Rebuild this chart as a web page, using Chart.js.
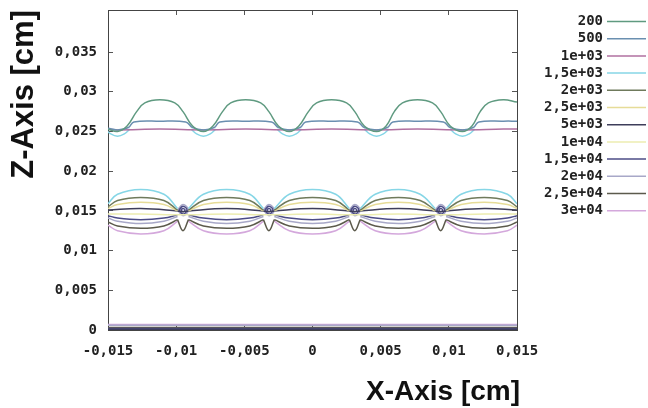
<!DOCTYPE html>
<html>
<head>
<meta charset="utf-8">
<script src="https://cdn.jsdelivr.net/npm/chart.js@4.4.1/dist/chart.umd.min.js"></script>
<style>
  body { margin: 0; background: #fff; }
  canvas { display: block; }
</style>
</head>
<body>
<canvas id="contour" width="648" height="408"></canvas>
<script>
// tick labels and contour levels
const xTicks = [-0.015, -0.01, -0.005, 0, 0.005, 0.01, 0.015];
const zTicks = [0, 0.005, 0.01, 0.015, 0.02, 0.025, 0.03, 0.035];
const levels = ["200", "500", "1e+03", "1,5e+03", "2e+03", "2,5e+03", "5e+03", "1e+04", "1,5e+04", "2e+04", "2,5e+04", "3e+04"];

// contour lines: segments of [x, z] in cm
const c200 = [[
  [-0.0150, 0.0253], [-0.0143, 0.0250], [-0.0136, 0.0257], [-0.0129, 0.0275], [-0.0123, 0.0286], [-0.0112, 0.0290],
  [-0.0101, 0.0286], [-0.0095, 0.0275], [-0.0088, 0.0257], [-0.0080, 0.0250], [-0.0073, 0.0257], [-0.0066, 0.0275],
  [-0.0060, 0.0286], [-0.0049, 0.0290], [-0.0038, 0.0286], [-0.0032, 0.0275], [-0.0025, 0.0257], [-0.0017, 0.0250],
  [-0.0010, 0.0257], [-0.0003, 0.0275], [0.0003, 0.0286], [0.0014, 0.0290], [0.0025, 0.0286], [0.0031, 0.0275],
  [0.0038, 0.0257], [0.0047, 0.0250], [0.0054, 0.0257], [0.0060, 0.0275], [0.0066, 0.0286], [0.0077, 0.0290],
  [0.0088, 0.0286], [0.0094, 0.0275], [0.0101, 0.0257], [0.0110, 0.0250], [0.0117, 0.0257], [0.0123, 0.0275],
  [0.0129, 0.0286], [0.0140, 0.0290], [0.0150, 0.0287]
]];
const c500 = [[
  [-0.0150, 0.0254], [-0.0143, 0.0252], [-0.0135, 0.0255], [-0.0131, 0.0262], [-0.0112, 0.0263], [-0.0093, 0.0262],
  [-0.0088, 0.0255], [-0.0080, 0.0252], [-0.0072, 0.0255], [-0.0068, 0.0262], [-0.0049, 0.0263], [-0.0030, 0.0262],
  [-0.0025, 0.0255], [-0.0017, 0.0252], [-0.0009, 0.0255], [-0.0005, 0.0262], [0.0014, 0.0263], [0.0033, 0.0262],
  [0.0038, 0.0255], [0.0047, 0.0252], [0.0055, 0.0255], [0.0059, 0.0262], [0.0077, 0.0263], [0.0096, 0.0262],
  [0.0101, 0.0255], [0.0110, 0.0252], [0.0118, 0.0255], [0.0122, 0.0262], [0.0140, 0.0263], [0.0150, 0.0263]
]];
const c1e3 = [[
  [-0.0150, 0.0253], [-0.0143, 0.0252], [-0.0112, 0.0253], [-0.0080, 0.0252], [-0.0049, 0.0253], [-0.0017, 0.0252],
  [0.0014, 0.0253], [0.0047, 0.0252], [0.0077, 0.0253], [0.0110, 0.0252], [0.0140, 0.0253], [0.0150, 0.0253]
]];
const c1500 = [
  [[-0.0152, 0.0253], [-0.0148, 0.0247], [-0.0143, 0.0244], [-0.0138, 0.0247], [-0.0134, 0.0253]],
  [[-0.0089, 0.0253], [-0.0085, 0.0247], [-0.0080, 0.0244], [-0.0075, 0.0247], [-0.0071, 0.0253]],
  [[-0.0026, 0.0253], [-0.0022, 0.0247], [-0.0017, 0.0244], [-0.0012, 0.0247], [-0.0008, 0.0253]],
  [[0.0038, 0.0253], [0.0042, 0.0247], [0.0047, 0.0244], [0.0052, 0.0247], [0.0056, 0.0253]],
  [[0.0101, 0.0253], [0.0105, 0.0247], [0.0110, 0.0244], [0.0115, 0.0247], [0.0119, 0.0253]],
  [[-0.0150, 0.0159], [-0.0143, 0.0171], [-0.0126, 0.0177], [-0.0109, 0.0171], [-0.0099, 0.0153]],
  [[-0.0091, 0.0153], [-0.0080, 0.0171], [-0.0063, 0.0177], [-0.0046, 0.0171], [-0.0036, 0.0153]],
  [[-0.0028, 0.0153], [-0.0017, 0.0171], [0.0000, 0.0177], [0.0017, 0.0171], [0.0027, 0.0153]],
  [[0.0035, 0.0153], [0.0046, 0.0171], [0.0063, 0.0177], [0.0079, 0.0171], [0.0090, 0.0153]],
  [[0.0098, 0.0153], [0.0109, 0.0171], [0.0126, 0.0177], [0.0143, 0.0171], [0.0150, 0.0159]]
];
const c2000 = [
  [[-0.0150, 0.0155], [-0.0143, 0.0163], [-0.0126, 0.0167], [-0.0109, 0.0163], [-0.0099, 0.0151]],
  [[-0.0091, 0.0151], [-0.0080, 0.0163], [-0.0063, 0.0167], [-0.0046, 0.0163], [-0.0036, 0.0151]],
  [[-0.0028, 0.0151], [-0.0017, 0.0163], [0.0000, 0.0167], [0.0017, 0.0163], [0.0027, 0.0151]],
  [[0.0035, 0.0151], [0.0046, 0.0163], [0.0063, 0.0167], [0.0079, 0.0163], [0.0090, 0.0151]],
  [[0.0098, 0.0151], [0.0109, 0.0163], [0.0126, 0.0167], [0.0143, 0.0163], [0.0150, 0.0155]]
];
const c2500 = [
  [[-0.0150, 0.0153], [-0.0143, 0.0158], [-0.0126, 0.0161], [-0.0109, 0.0158], [-0.0099, 0.0150]],
  [[-0.0091, 0.0150], [-0.0080, 0.0158], [-0.0063, 0.0161], [-0.0046, 0.0158], [-0.0036, 0.0150]],
  [[-0.0028, 0.0150], [-0.0017, 0.0158], [0.0000, 0.0161], [0.0017, 0.0158], [0.0027, 0.0150]],
  [[0.0035, 0.0150], [0.0046, 0.0158], [0.0063, 0.0161], [0.0079, 0.0158], [0.0090, 0.0150]],
  [[0.0098, 0.0150], [0.0109, 0.0158], [0.0126, 0.0161], [0.0143, 0.0158], [0.0150, 0.0153]]
];
const c5000 = [
  [[-0.0150, 0.0151], [-0.0126, 0.0153], [-0.0099, 0.0150], [-0.0095, 0.0149], [-0.0091, 0.0150], [-0.0063, 0.0153],
   [-0.0036, 0.0150], [-0.0032, 0.0149], [-0.0028, 0.0150], [0.0000, 0.0153], [0.0027, 0.0150], [0.0031, 0.0149],
   [0.0035, 0.0150], [0.0063, 0.0153], [0.0090, 0.0150], [0.0094, 0.0149], [0.0098, 0.0150], [0.0126, 0.0153],
   [0.0150, 0.0151]],
  [[-0.0150, 0.0001], [0.0000, 0.0001], [0.0150, 0.0001]]
];
const c1e4 = [
  [[-0.0150, 0.0146], [-0.0126, 0.0146], [-0.0095, 0.0145], [-0.0063, 0.0146], [-0.0032, 0.0145], [0.0000, 0.0146],
   [0.0031, 0.0145], [0.0063, 0.0146], [0.0094, 0.0145], [0.0126, 0.0146], [0.0150, 0.0146]]
];
const c15e3 = [
  [[-0.0150, 0.0144], [-0.0143, 0.0141], [-0.0126, 0.0139], [-0.0109, 0.0141], [-0.0099, 0.0145]],
  [[-0.0091, 0.0145], [-0.0080, 0.0141], [-0.0063, 0.0139], [-0.0046, 0.0141], [-0.0036, 0.0145]],
  [[-0.0028, 0.0145], [-0.0017, 0.0141], [0.0000, 0.0139], [0.0017, 0.0141], [0.0027, 0.0145]],
  [[0.0035, 0.0145], [0.0046, 0.0141], [0.0063, 0.0139], [0.0079, 0.0141], [0.0090, 0.0145]],
  [[0.0098, 0.0145], [0.0109, 0.0141], [0.0126, 0.0139], [0.0143, 0.0141], [0.0150, 0.0144]],
  [[-0.0098, 0.0151], [-0.0095, 0.0156], [-0.0092, 0.0151], [-0.0095, 0.0146], [-0.0098, 0.0151]],
  [[-0.0035, 0.0151], [-0.0032, 0.0156], [-0.0029, 0.0151], [-0.0032, 0.0146], [-0.0035, 0.0151]],
  [[0.0028, 0.0151], [0.0031, 0.0156], [0.0034, 0.0151], [0.0031, 0.0146], [0.0028, 0.0151]],
  [[0.0091, 0.0151], [0.0094, 0.0156], [0.0097, 0.0151], [0.0094, 0.0146], [0.0091, 0.0151]],
  [[-0.00965, 0.0151], [-0.0095, 0.0153], [-0.00935, 0.0151], [-0.0095, 0.0149], [-0.00965, 0.0151]],
  [[-0.00335, 0.0151], [-0.0032, 0.0153], [-0.00305, 0.0151], [-0.0032, 0.0149], [-0.00335, 0.0151]],
  [[0.00295, 0.0151], [0.0031, 0.0153], [0.00325, 0.0151], [0.0031, 0.0149], [0.00295, 0.0151]],
  [[0.00925, 0.0151], [0.0094, 0.0153], [0.00955, 0.0151], [0.0094, 0.0149], [0.00925, 0.0151]],
  [[-0.0150, 0.0002], [0.0000, 0.0002], [0.0150, 0.0002]]
];
const c2e4 = [
  [[-0.0150, 0.0141], [-0.0143, 0.0137], [-0.0126, 0.0134], [-0.0109, 0.0137], [-0.0099, 0.0143]],
  [[-0.0091, 0.0143], [-0.0080, 0.0137], [-0.0063, 0.0134], [-0.0046, 0.0137], [-0.0036, 0.0143]],
  [[-0.0028, 0.0143], [-0.0017, 0.0137], [0.0000, 0.0134], [0.0017, 0.0137], [0.0027, 0.0143]],
  [[0.0035, 0.0143], [0.0046, 0.0137], [0.0063, 0.0134], [0.0079, 0.0137], [0.0090, 0.0143]],
  [[0.0098, 0.0143], [0.0109, 0.0137], [0.0126, 0.0134], [0.0143, 0.0137], [0.0150, 0.0141]],
  [[-0.0099, 0.0151], [-0.0095, 0.0158], [-0.0091, 0.0151], [-0.0095, 0.0144], [-0.0099, 0.0151]],
  [[-0.0036, 0.0151], [-0.0032, 0.0158], [-0.0028, 0.0151], [-0.0032, 0.0144], [-0.0036, 0.0151]],
  [[0.0027, 0.0151], [0.0031, 0.0158], [0.0035, 0.0151], [0.0031, 0.0144], [0.0027, 0.0151]],
  [[0.0090, 0.0151], [0.0094, 0.0158], [0.0098, 0.0151], [0.0094, 0.0144], [0.0090, 0.0151]],
  [[-0.0150, 0.0006], [0.0000, 0.0006], [0.0150, 0.0006]]
];
const c25e3 = [
  [[-0.0150, 0.0136], [-0.0143, 0.0131], [-0.0126, 0.0128], [-0.0109, 0.0131], [-0.0099, 0.0139]],
  [[-0.0091, 0.0139], [-0.0080, 0.0131], [-0.0063, 0.0128], [-0.0046, 0.0131], [-0.0036, 0.0139]],
  [[-0.0028, 0.0139], [-0.0017, 0.0131], [0.0000, 0.0128], [0.0017, 0.0131], [0.0027, 0.0139]],
  [[0.0035, 0.0139], [0.0046, 0.0131], [0.0063, 0.0128], [0.0079, 0.0131], [0.0090, 0.0139]],
  [[0.0098, 0.0139], [0.0109, 0.0131], [0.0126, 0.0128], [0.0143, 0.0131], [0.0150, 0.0136]],
  [[-0.0099, 0.0139], [-0.0095, 0.0125], [-0.0091, 0.0139]],
  [[-0.0036, 0.0139], [-0.0032, 0.0125], [-0.0028, 0.0139]],
  [[0.0027, 0.0139], [0.0031, 0.0125], [0.0035, 0.0139]],
  [[0.0090, 0.0139], [0.0094, 0.0125], [0.0098, 0.0139]],
  [[-0.0150, 0.0003], [0.0000, 0.0003], [0.0150, 0.0003]]
];
const c3e4 = [
  [[-0.0150, 0.0132], [-0.0143, 0.0125], [-0.0126, 0.0121], [-0.0109, 0.0125], [-0.0099, 0.0137]],
  [[-0.0091, 0.0137], [-0.0080, 0.0125], [-0.0063, 0.0121], [-0.0046, 0.0125], [-0.0036, 0.0137]],
  [[-0.0028, 0.0137], [-0.0017, 0.0125], [0.0000, 0.0121], [0.0017, 0.0125], [0.0027, 0.0137]],
  [[0.0035, 0.0137], [0.0046, 0.0125], [0.0063, 0.0121], [0.0079, 0.0125], [0.0090, 0.0137]],
  [[0.0098, 0.0137], [0.0109, 0.0125], [0.0126, 0.0121], [0.0143, 0.0125], [0.0150, 0.0132]],
  [[-0.0150, 0.0007], [0.0000, 0.0007], [0.0150, 0.0007]]
];

const contours = [c200, c500, c1e3, c1500, c2000, c2500, c5000, c1e4, c15e3, c2e4, c25e3, c3e4];
const lineColors = ["#5f9a80", "#6a8fb0", "#b070a0", "#86d6e6", "#6f7a5c", "#e6dc98",
                    "#3e3e5a", "#ececb0", "#4c4c86", "#a8a8c8", "#5c5a4c", "#d4a8dc"];

// flatten segments into one dataset per level, breaking the line between segments
function toPoints(segments) {
  const pts = [];
  segments.forEach((seg, i) => {
    if (i > 0) pts.push({ x: seg[0][0], y: null });
    seg.forEach(p => pts.push({ x: p[0], y: p[1] }));
  });
  return pts;
}

const monoFont = { family: "'DejaVu Sans Mono', monospace", size: 14, weight: "bold" };
const comma = v => String(v).replace(".", ",");

// gnuplot style legend on the right and the axis titles
const gnuplotText = {
  id: "gnuplotText",
  afterDraw(chart) {
    const ctx = chart.ctx;
    const area = chart.chartArea;
    ctx.save();
    ctx.font = "bold 14px 'DejaVu Sans Mono', monospace";
    ctx.textAlign = "right";
    ctx.textBaseline = "middle";
    chart.data.datasets.forEach((ds, i) => {
      const y = 21.5 + i * 17.2;
      ctx.fillStyle = "#222";
      ctx.fillText(ds.label, area.right + 86, y);
      ctx.strokeStyle = ds.borderColor;
      ctx.lineWidth = 1.5;
      ctx.beginPath();
      ctx.moveTo(area.right + 90, y);
      ctx.lineTo(area.right + 129, y);
      ctx.stroke();
    });

    ctx.fillStyle = "#111";
    ctx.textBaseline = "alphabetic";
    ctx.font = "bold 28px 'Liberation Sans', Arial, sans-serif";
    ctx.textAlign = "right";
    ctx.fillText("X-Axis [cm]", area.right + 3, 400);

    ctx.translate(33, area.top);
    ctx.rotate(-Math.PI / 2);
    ctx.font = "bold 31px 'Liberation Sans', Arial, sans-serif";
    ctx.textAlign = "right";
    ctx.fillText("Z-Axis [cm]", 0, 0);
    ctx.restore();
  }
};

const frameGrid = { drawOnChartArea: false, tickLength: -5, color: "#555", lineWidth: 1 };
const frameBorder = { color: "#444", width: 1 };

new Chart(document.getElementById("contour"), {
  type: "line",
  data: {
    datasets: contours.map((segs, i) => ({
      label: levels[i],
      data: toPoints(segs),
      borderColor: lineColors[i],
      borderWidth: 1.5,
      pointRadius: 0,
      tension: 0.4,
      spanGaps: false,
      fill: false
    }))
  },
  options: {
    responsive: false,
    animation: false,
    layout: { padding: { top: 10, right: 131, left: 0, bottom: 0 } },
    plugins: { legend: { display: false }, tooltip: { enabled: false } },
    scales: {
      x: {
        type: "linear", position: "bottom", min: -0.015, max: 0.015,
        afterBuildTicks: s => { s.ticks = xTicks.map(v => ({ value: v })); },
        afterFit: s => { s.height = 78; },
        ticks: { font: monoFont, color: "#222", padding: 18, maxRotation: 0, callback: comma },
        grid: frameGrid, border: frameBorder
      },
      x2: {
        type: "linear", position: "top", min: -0.015, max: 0.015,
        afterBuildTicks: s => { s.ticks = xTicks.map(v => ({ value: v })); },
        afterFit: s => { s.height = 0; },
        ticks: { display: false },
        grid: frameGrid, border: frameBorder
      },
      y: {
        type: "linear", position: "left", min: 0, max: 0.0403,
        afterBuildTicks: s => { s.ticks = zTicks.map(v => ({ value: v })); },
        afterFit: s => { s.width = 108; s.paddingTop = 0; s.paddingBottom = 0; },
        ticks: { font: monoFont, color: "#222", padding: 16, callback: comma },
        grid: frameGrid, border: frameBorder
      },
      y2: {
        type: "linear", position: "right", min: 0, max: 0.0403,
        afterBuildTicks: s => { s.ticks = zTicks.map(v => ({ value: v })); },
        afterFit: s => { s.width = 0; s.paddingTop = 0; s.paddingBottom = 0; },
        ticks: { display: false },
        grid: frameGrid, border: frameBorder
      }
    }
  },
  plugins: [gnuplotText]
});
</script>
</body>
</html>
